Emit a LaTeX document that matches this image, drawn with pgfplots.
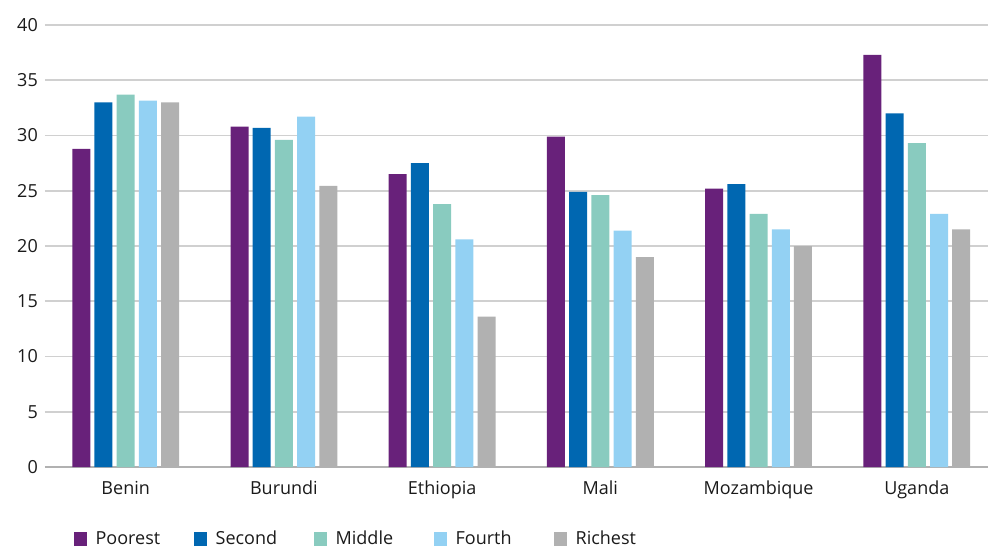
\documentclass[border=0pt]{standalone}
\usepackage{pgfplots}
\pgfplotsset{compat=1.18}
\usepackage{fontspec}
\setmainfont{Open Sans}
\definecolor{cPoor}{HTML}{68217A}
\definecolor{cSec}{HTML}{0067B1}
\definecolor{cMid}{HTML}{89CBBF}
\definecolor{cFour}{HTML}{93D1F3}
\definecolor{cRich}{HTML}{B1B1B1}
\definecolor{cGrid}{HTML}{D0D0D0}
\definecolor{cText}{HTML}{1A1A1A}
\begin{document}
\fontsize{18}{21}\selectfont
\begin{tikzpicture}
\useasboundingbox (-45pt,-83pt) rectangle (943pt,467pt);
\begin{axis}[
  scale only axis, width=943pt, height=442pt,
  ymin=0, ymax=40, ytick={0,5,...,40},
  xmin=-0.51, xmax=5.45,
  xtick={0,1,2,3,4,5},
  xticklabels={Benin,Burundi,Ethiopia,Mali,Mozambique,Uganda},
  ybar=4.2pt, bar width=18pt,
  axis x line*=bottom, axis y line*=left,
  x axis line style={draw=cGrid!85!black, line width=1.6pt, -},
  y axis line style={draw=none},
  major tick length=0pt,
  ymajorgrids, grid style={draw=cGrid, line width=1.6pt},
  tick label style={font=\fontsize{18}{21}\selectfont, text=cText},
  /pgf/number format/assume math mode=true,
  yticklabel style={xshift=-1pt},
  xticklabel style={yshift=-8pt},
  legend cell align=left,
  legend style={at={(0.027,-0.163)}, anchor=west, draw=none, fill=none,
    legend columns=5, font=\fontsize{18}{21}\selectfont, text=cText,
    /tikz/every odd column/.append style={column sep=7pt},
    /tikz/every even column/.append style={column sep=25pt, text width=71pt}},
  legend image code/.code={\fill[#1] (0pt,-7pt) rectangle (13pt,7pt);},
]
\addplot[fill=cPoor, draw=none] coordinates {(0,28.8) (1,30.8) (2,26.5) (3,29.9) (4,25.2) (5,37.3)};
\addplot[fill=cSec, draw=none] coordinates {(0,33.0) (1,30.7) (2,27.5) (3,24.9) (4,25.6) (5,32.0)};
\addplot[fill=cMid, draw=none] coordinates {(0,33.7) (1,29.6) (2,23.8) (3,24.6) (4,22.9) (5,29.3)};
\addplot[fill=cFour, draw=none] coordinates {(0,33.15) (1,31.7) (2,20.6) (3,21.4) (4,21.5) (5,22.9)};
\addplot[fill=cRich, draw=none] coordinates {(0,33.0) (1,25.45) (2,13.6) (3,19.0) (4,20.0) (5,21.5)};
\legend{Poorest,Second,Middle,Fourth,Richest}
\end{axis}
\end{tikzpicture}
\end{document}
